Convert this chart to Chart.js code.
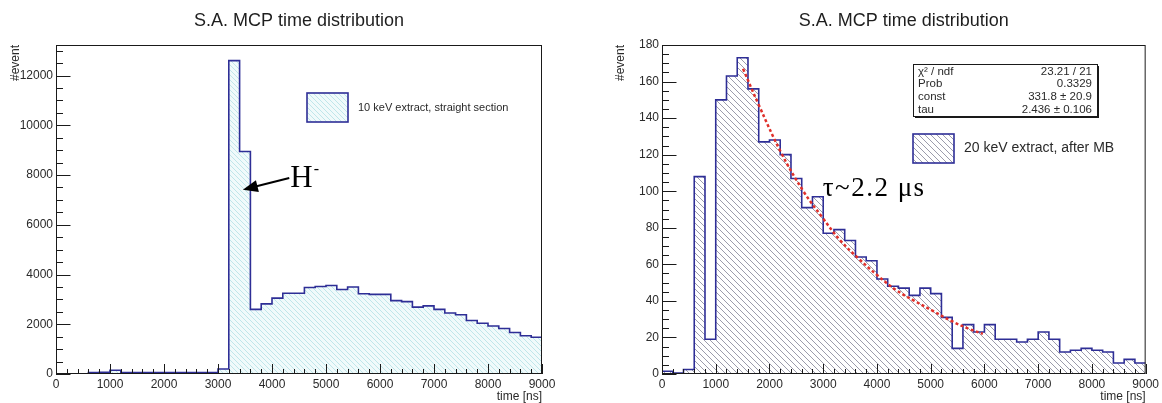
<!DOCTYPE html>
<html>
<head>
<meta charset="utf-8">
<script src="https://cdn.jsdelivr.net/npm/chart.js@4.4.0/dist/chart.umd.min.js"></script>
<style>
  html, body { margin: 0; padding: 0; background: #fff; }
  #wrap { position: relative; width: 1162px; height: 403px; }
  canvas { position: absolute; top: 0; }
  #leftChart { left: 0; }
  #rightChart { left: 580px; }
</style>
</head>
<body>
<div id="wrap">
  <canvas id="leftChart" width="580" height="403"></canvas>
  <canvas id="rightChart" width="582" height="403"></canvas>
</div>
<script>
// Histogram data (200 ns bins, 0 .. 9000 ns)
const BIN_WIDTH = 200;
const X_MAX = 9000;

const xTicks = [0, 1000, 2000, 3000, 4000, 5000, 6000, 7000, 8000, 9000];
const leftYTicks = [0, 2000, 4000, 6000, 8000, 10000, 12000];
const rightYTicks = [0, 20, 40, 60, 80, 100, 120, 140, 160, 180];

// 10 keV extract, straight section
const leftCounts = [
    0, 0, 0, 60, 70, 150, 60, 60, 60, 60,
    60, 60, 60, 60, 60, 200, 12600, 8950, 2600, 2820,
    3050, 3250, 3250, 3480, 3520, 3560, 3400, 3500, 3230, 3200,
    3200, 2950, 2910, 2690, 2740, 2600, 2450, 2380, 2150, 2040,
    1930, 1830, 1670, 1540, 1480
];

// 20 keV extract, after MB
const rightCounts = [
    1.5, 0.5, 2.5, 108, 19, 150, 163, 173, 156, 127,
    128, 120, 107, 91, 97, 77, 79, 73, 64, 62,
    52, 48, 47, 43, 47, 44, 31, 14, 27, 23,
    27, 19, 19, 17.5, 19, 23, 19, 12, 13, 14,
    13, 12, 6, 8, 6
];

// exponential fit curve
const fitTime = [1508, 1804, 2218, 2631, 2975, 3320, 3664, 4008, 4353, 4697, 5041, 5386, 5730, 5971];
const fitValue = [167, 147, 121, 100, 86, 73, 63, 54, 46, 40, 34.5, 29, 24.5, 22];

const statsRows = [
    ['\u03c7\u00b2 / ndf', '23.21 / 21'],
    ['Prob', '0.3329'],
    ['const', '331.8 \u00b1 20.9'],
    ['tau', '2.436 \u00b1 0.106']
];

const FONT = "'Liberation Sans', Arial, sans-serif";
const SERIF = "'Liberation Serif', 'Times New Roman', serif";
const HIST_BLUE = '#2e2e96';
const TEXT = '#2a2a2a';

function makeHatch(bg, line, size, width) {
    const c = document.createElement('canvas');
    c.width = size;
    c.height = size;
    const g = c.getContext('2d');
    g.fillStyle = bg;
    g.fillRect(0, 0, size, size);
    g.strokeStyle = line;
    g.lineWidth = width;
    g.beginPath();
    g.moveTo(-1, -1); g.lineTo(size + 1, size + 1);
    g.moveTo(-1, size - 1); g.lineTo(1, size + 1);
    g.moveTo(size - 1, -1); g.lineTo(size + 1, 1);
    g.stroke();
    return g.createPattern(c, 'repeat');
}

const cyanHatch = makeHatch('#f0fafb', '#bfe6ea', 5, 1);
const greyHatch = makeHatch('#ffffff', '#9c9cac', 6, 1);

function histPoints(counts) {
    const pts = counts.map((c, i) => ({ x: i * BIN_WIDTH, y: c }));
    pts.push({ x: counts.length * BIN_WIDTH, y: counts[counts.length - 1] });
    return pts;
}

function fixedTicks(values) {
    return s => { s.ticks = values.map(v => ({ value: v })); };
}

// ROOT style frame with ticks pointing inwards
function drawFrame(chart, yMajor, yMinor) {
    const { ctx, chartArea: a, scales: { x, y } } = chart;
    ctx.save();
    ctx.strokeStyle = '#1a1a1a';
    ctx.lineWidth = 1;
    ctx.beginPath();
    for (let v = 0; v <= X_MAX; v += BIN_WIDTH) {
        const px = Math.round(x.getPixelForValue(v)) + 0.5;
        const len = v % 1000 === 0 ? 10 : 5;
        ctx.moveTo(px, a.bottom);
        ctx.lineTo(px, a.bottom - len);
    }
    for (let v = 0; v <= y.max; v += yMinor) {
        const py = Math.round(y.getPixelForValue(v)) + 0.5;
        const len = v % yMajor === 0 ? 14.5 : 7;
        ctx.moveTo(a.left, py);
        ctx.lineTo(a.left + len, py);
    }
    ctx.stroke();
    ctx.strokeRect(a.left + 0.5, a.top + 0.5, a.width - 1, a.height - 1);
    ctx.restore();
}

function drawLegendEntry(ctx, box, fill, label, size) {
    ctx.save();
    ctx.fillStyle = fill;
    ctx.fillRect(box.x, box.y, box.w, box.h);
    ctx.strokeStyle = HIST_BLUE;
    ctx.lineWidth = 1.6;
    ctx.strokeRect(box.x, box.y, box.w, box.h);
    ctx.fillStyle = TEXT;
    ctx.font = size + 'px ' + FONT;
    ctx.textBaseline = 'middle';
    ctx.fillText(label, box.x + box.w + 10, box.y + box.h / 2);
    ctx.restore();
}

function baseOptions(yMax, yTicks, yWidth, rightPad, titlePad) {
    return {
        responsive: false,
        animation: false,
        layout: { padding: { left: 0, right: rightPad, top: 0, bottom: 0 } },
        plugins: {
            legend: { display: false },
            tooltip: { enabled: false },
            title: {
                display: true,
                text: 'S.A. MCP time distribution',
                fullSize: false,
                color: '#1e1e1e',
                font: { family: FONT, size: 18, weight: 'normal', lineHeight: 1.2 },
                padding: { top: 10, bottom: 13.4 }
            }
        },
        scales: {
            x: {
                type: 'linear',
                min: 0,
                max: X_MAX,
                grid: { display: false, drawTicks: false },
                border: { display: false },
                afterBuildTicks: fixedTicks(xTicks),
                ticks: {
                    padding: 3,
                    maxRotation: 0,
                    autoSkip: false,
                    color: TEXT,
                    font: { family: FONT, size: 12 },
                    callback: v => String(v)
                },
                title: {
                    display: true,
                    text: 'time [ns]',
                    align: 'end',
                    color: TEXT,
                    font: { family: FONT, size: 12, lineHeight: 1 },
                    padding: 0
                },
                afterFit: s => { s.height = 29; }
            },
            y: {
                min: 0,
                max: yMax,
                grid: { display: false, drawTicks: false },
                border: { display: false },
                afterBuildTicks: fixedTicks(yTicks),
                ticks: {
                    padding: 3,
                    autoSkip: false,
                    color: TEXT,
                    font: { family: FONT, size: 12 },
                    callback: v => String(v)
                },
                title: {
                    display: true,
                    text: '#event',
                    align: 'end',
                    color: TEXT,
                    font: { family: FONT, size: 12, lineHeight: 1 },
                    padding: { top: titlePad, bottom: 0 }
                },
                afterFit: s => { s.width = yWidth; }
            }
        }
    };
}

// Left panel
new Chart(document.getElementById('leftChart'), {
    type: 'line',
    data: {
        datasets: [{
            data: histPoints(leftCounts),
            stepped: true,
            borderColor: HIST_BLUE,
            borderWidth: 1.6,
            backgroundColor: cyanHatch,
            fill: 'origin',
            pointRadius: 0
        }]
    },
    options: baseOptions(13230, leftYTicks, 56, 38, 10),
    plugins: [{
        id: 'leftDecor',
        afterDatasetsDraw(chart) {
            const { ctx, scales: { x, y } } = chart;
            drawFrame(chart, 2000, 500);
            drawLegendEntry(ctx, { x: 307, y: 93, w: 41, h: 29 }, cyanHatch,
                '10 keV extract, straight section', 11);

            // H- arrow
            const tipX = x.getPixelForValue(3460), tipY = y.getPixelForValue(7410);
            const tailX = x.getPixelForValue(4320), tailY = y.getPixelForValue(7880);
            const ang = Math.atan2(tipY - tailY, tipX - tailX);
            ctx.save();
            ctx.strokeStyle = '#000';
            ctx.fillStyle = '#000';
            ctx.lineWidth = 2;
            ctx.beginPath();
            ctx.moveTo(tailX, tailY);
            ctx.lineTo(tipX - 10 * Math.cos(ang), tipY - 10 * Math.sin(ang));
            ctx.stroke();
            ctx.beginPath();
            ctx.moveTo(tipX, tipY);
            ctx.lineTo(tipX - 15 * Math.cos(ang) + 6 * Math.sin(ang), tipY - 15 * Math.sin(ang) - 6 * Math.cos(ang));
            ctx.lineTo(tipX - 15 * Math.cos(ang) - 6 * Math.sin(ang), tipY - 15 * Math.sin(ang) + 6 * Math.cos(ang));
            ctx.closePath();
            ctx.fill();

            const hx = x.getPixelForValue(4340), hy = y.getPixelForValue(7850);
            ctx.font = '31px ' + SERIF;
            ctx.textBaseline = 'middle';
            ctx.fillText('H', hx, hy);
            const hw = ctx.measureText('H').width;
            ctx.font = '16px ' + SERIF;
            ctx.fillText('-', hx + hw + 1, hy - 9);
            ctx.restore();
        }
    }]
});

// Right panel
new Chart(document.getElementById('rightChart'), {
    type: 'line',
    data: {
        datasets: [{
            data: fitTime.map((t, i) => ({ x: t, y: fitValue[i] })),
            borderColor: '#e0302a',
            borderWidth: 2.5,
            borderDash: [3, 2.5],
            tension: 0.4,
            fill: false,
            pointRadius: 0
        }, {
            data: histPoints(rightCounts),
            stepped: true,
            borderColor: HIST_BLUE,
            borderWidth: 1.6,
            backgroundColor: greyHatch,
            fill: 'origin',
            pointRadius: 0
        }]
    },
    options: baseOptions(180, rightYTicks, 82, 16, 34.5),
    plugins: [{
        id: 'rightDecor',
        afterDatasetsDraw(chart) {
            const { ctx, scales: { x, y } } = chart;
            drawFrame(chart, 20, 5);

            // fit statistics box
            const sb = { x: 333, y: 64, w: 184, h: 52 };
            ctx.save();
            ctx.fillStyle = '#fff';
            ctx.fillRect(sb.x, sb.y, sb.w, sb.h);
            ctx.fillStyle = '#1a1a1a';
            ctx.fillRect(sb.x + 2, sb.y + sb.h, sb.w, 2);
            ctx.fillRect(sb.x + sb.w, sb.y + 2, 2, sb.h);
            ctx.strokeStyle = '#1a1a1a';
            ctx.lineWidth = 1;
            ctx.strokeRect(sb.x + 0.5, sb.y + 0.5, sb.w, sb.h);
            ctx.font = '11.5px ' + FONT;
            ctx.fillStyle = TEXT;
            ctx.textBaseline = 'middle';
            statsRows.forEach((row, i) => {
                const ry = sb.y + 7.5 + i * 12.7;
                ctx.textAlign = 'left';
                ctx.fillText(row[0], sb.x + 5, ry);
                ctx.textAlign = 'right';
                ctx.fillText(row[1], sb.x + sb.w - 5, ry);
            });
            ctx.restore();

            drawLegendEntry(ctx, { x: 333, y: 134, w: 41, h: 29 }, greyHatch,
                '20 keV extract, after MB', 14);

            // lifetime note
            ctx.save();
            ctx.fillStyle = '#000';
            ctx.font = '27px ' + SERIF;
            ctx.textBaseline = 'middle';
            ctx.letterSpacing = '1.5px';
            ctx.fillText('\u03c4~2.2 \u03bcs', x.getPixelForValue(2990), y.getPixelForValue(101));
            ctx.restore();
        }
    }]
});
</script>
</body>
</html>
